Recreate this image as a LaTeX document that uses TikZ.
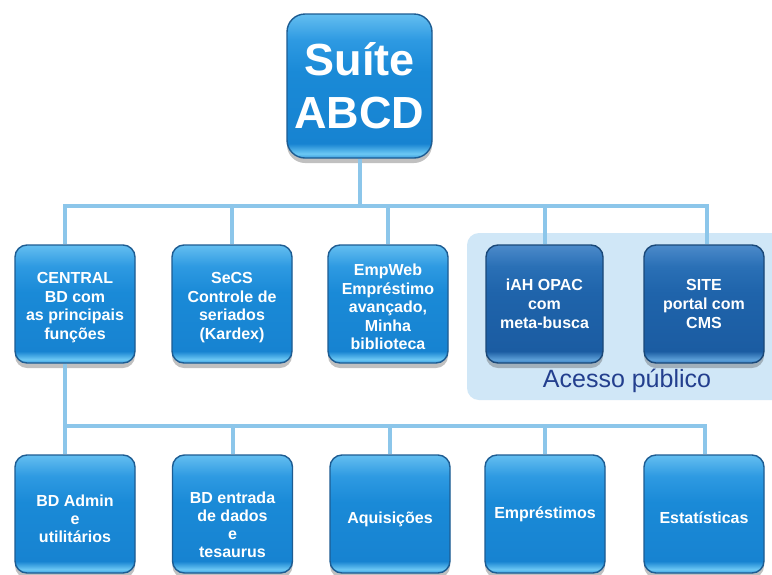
\documentclass[tikz,border=0pt]{standalone}
\usepackage{fontspec}
\setmainfont{Liberation Sans}
\usetikzlibrary{shadows,calc}

% glossy module colours (light blue)
\definecolor{aBot}{HTML}{3A9CDE}
\definecolor{aBand}{HTML}{6CC8F4}
\definecolor{aLow}{HTML}{1783D1}
\definecolor{aMid}{HTML}{1A8AD7}
\definecolor{aUp}{HTML}{2E9AE2}
\definecolor{aTop}{HTML}{64BEF0}
\definecolor{aEdge}{HTML}{1D5C92}
% glossy module colours (dark blue, public access)
\definecolor{dBot}{HTML}{3C84C6}
\definecolor{dBand}{HTML}{5C9FD8}
\definecolor{dLow}{HTML}{1B5CA2}
\definecolor{dMid}{HTML}{1F64AB}
\definecolor{dUp}{HTML}{2A70B6}
\definecolor{dTop}{HTML}{4C8ACA}
\definecolor{dEdge}{HTML}{1A4878}
% connectors and panel
\definecolor{busBlue}{HTML}{8CC6EA}
\definecolor{panelBlue}{HTML}{D0E7F7}
\definecolor{panelText}{HTML}{233F8E}

\pgfdeclareverticalshading{glossA}{100bp}{%
  color(0bp)=(aBot); color(25bp)=(aBot); color(26.5bp)=(aBand);
  color(30bp)=(aLow); color(55bp)=(aMid); color(66bp)=(aUp);
  color(75bp)=(aTop); color(100bp)=(aTop)}
\pgfdeclareverticalshading{glossD}{100bp}{%
  color(0bp)=(dBot); color(25bp)=(dBot); color(26.5bp)=(dBand);
  color(30bp)=(dLow); color(55bp)=(dMid); color(66bp)=(dUp);
  color(75bp)=(dTop); color(100bp)=(dTop)}

% invisible strut that lowers a box text block by #1 pt
\newcommand\txtdrop[1]{\rule{0pt}{\dimexpr 12pt+#1pt*2\relax}}

\tikzset{
  modbox/.style={draw=aEdge, line width=1.4pt, shading=glossA,
    rounded corners=12pt, minimum width=120pt, minimum height=118pt,
    text=white, align=center, inner sep=2pt,
    font=\bfseries\fontsize{16}{18}\selectfont,
    drop shadow={shadow xshift=0pt, shadow yshift=-5pt, opacity=0.35, fill=black!70}},
  pubbox/.style={modbox, draw=dEdge, shading=glossD,
    font=\bfseries\fontsize{16}{19}\selectfont},
  rowtwo/.style={font=\bfseries\fontsize{16}{18.5}\selectfont},
  bus/.style={draw=busBlue, line width=4pt},
}

\begin{document}
\begin{tikzpicture}[x=1pt,y=-1pt]
\clip (0,0) rectangle (772,574);
\fill[white] (0,0) rectangle (772,574);

% public access panel
\fill[panelBlue, rounded corners=12pt] (467,233) rectangle (790,400);
\node[text=panelText, font=\fontsize{25}{29}\selectfont] (pubtxt) at (627,381) {Acesso público};

% root
\node[modbox, minimum width=145pt, minimum height=144pt, rounded corners=18pt,
      font=\bfseries\fontsize{45}{53}\selectfont] (top) at (359.5,86) {Suíte\\ABCD};

% main modules
\node[modbox, rowtwo] (central) at (75,304) {\txtdrop{3}CENTRAL\\BD com\\as principais\\funções};
\node[modbox, rowtwo] (secs) at (232,304) {\txtdrop{3}SeCS\\Controle de\\seriados\\(Kardex)};
\node[modbox, rowtwo] (empweb) at (388,304) {\txtdrop{3}EmpWeb\\Empréstimo\\avançado,\\Minha\\biblioteca};
\node[pubbox, minimum width=117pt] (iah) at (544.5,304) {iAH OPAC\\com\\meta-busca};
\node[pubbox] (site) at (704,304) {SITE\\portal com\\CMS};

% CENTRAL functions
\node[modbox] (admin) at (75,514) {\txtdrop{5}BD Admin\\e\\utilitários};
\node[modbox] (entrada) at (232.5,514) {\txtdrop{11}BD entrada\\de dados\\e\\tesaurus};
\node[modbox] (aquis) at (390,514) {\txtdrop{5}Aquisições};
\node[modbox] (empr) at (545,514) {Empréstimos};
\node[modbox] (estat) at (704,514) {\txtdrop{4}Estatísticas};

% upper tree
\draw[bus] (top.south) -- ++(0,49);
\draw[bus] ($(central.north)+(-10,0)$) -- ++(0,-38) -| ($(site.north)+(3,0)$);
\draw[bus] (secs.north) -- ++(0,-38);
\draw[bus] (empweb.north) -- ++(0,-38);
\draw[bus] (iah.north) -- ++(0,-38);

% lower tree
\draw[bus] ($(central.south)+(-10,0)$) -- ($(admin.north)+(-10,0)$);
\draw[bus] ($(admin.north)+(-10,-28)$) -| ($(estat.north)+(1,0)$);
\draw[bus] (entrada.north) -- ++(0,-28);
\draw[bus] (aquis.north) -- ++(0,-28);
\draw[bus] (empr.north) -- ++(0,-28);
\end{tikzpicture}
\end{document}
